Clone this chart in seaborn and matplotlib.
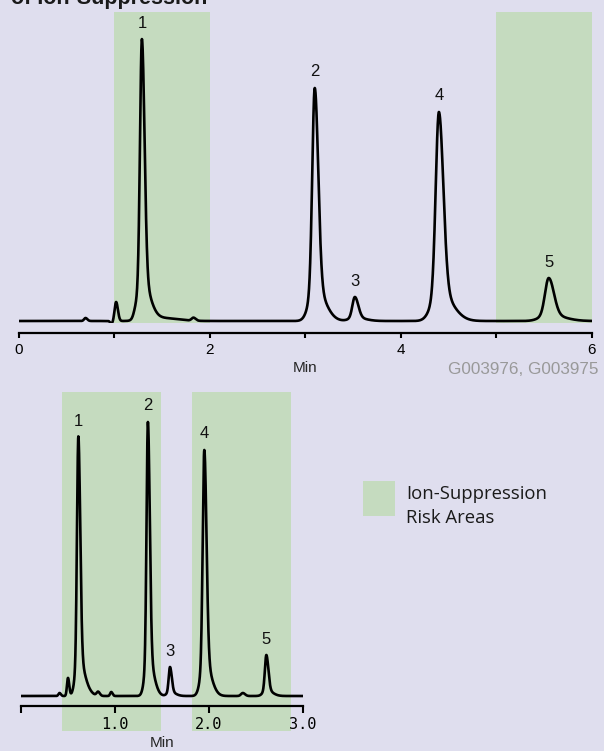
import numpy as np
import pandas as pd
import matplotlib
matplotlib.use("Agg")
import matplotlib.pyplot as plt
from matplotlib.patches import Rectangle
import seaborn as sns

# ---------------- data ----------------
# Upper chromatogram (0-6 min): labelled analyte peaks
top_labels = ["1", "2", "3", "4", "5"]
top_rt = [1.29, 3.10, 3.52, 4.40, 5.55]          # retention time, min
top_height = [281, 233, 24, 209, 43]             # detector response
top_fwhm = [0.055, 0.072, 0.072, 0.092, 0.108]   # peak width at half height, min
# minor baseline features of the upper trace
top_minor_rt = [0.70, 0.97, 1.02, 1.22, 1.50, 1.83]
top_minor_height = [3, -3, 19, 3, 3, 3]
top_minor_fwhm = [0.04, 0.03, 0.04, 0.05, 0.35, 0.05]
top_risk_start = [1.0, 5.0]
top_risk_end = [2.0, 6.0]

# Lower chromatogram (0-3 min)
bot_labels = ["1", "2", "3", "4", "5"]
bot_rt = [0.61, 1.35, 1.585, 1.95, 2.61]
bot_height = [259, 274, 29, 246, 41]
bot_fwhm = [0.040, 0.040, 0.038, 0.047, 0.043]
bot_minor_rt = [0.41, 0.50, 0.70, 0.82, 0.96, 2.36]
bot_minor_height = [3, 18, 4, 4, 4, 3]
bot_minor_fwhm = [0.03, 0.028, 0.12, 0.04, 0.03, 0.05]
bot_risk_start = [0.44, 1.82]
bot_risk_end = [1.49, 2.87]

legend_text = "Ion-Suppression\nRisk Areas"
codes_text = "G003976, G003975"

# ---------------- styling ----------------
BG = "#dfdeee"
GREEN = "#c5dbbf"
W, H = 604, 751

sns.set_theme(style="white")
plt.rcParams["font.family"] = ["Liberation Sans", "DejaVu Sans"]


def gauss_asym(t, rt, h, fwhm, tail):
    s = fwhm / 2.3548
    sl = 2 * s / (1 + tail)
    sr = 2 * s * tail / (1 + tail)
    sig = np.where(t < rt, sl, sr)
    return h * np.exp(-0.5 * ((t - rt) / sig) ** 2)


def peak_shape(t, rt, h, fwhm):
    # sharp core plus a broader, tailing foot
    return (gauss_asym(t, rt, 0.85 * h, fwhm, 1.4)
            + gauss_asym(t, rt, 0.15 * h, 2.6 * fwhm, 1.8))


def build_trace(t, rts, hs, ws, mrts, mhs, mws):
    y = np.zeros_like(t)
    for rt, h, w in zip(rts, hs, ws):
        y += peak_shape(t, rt, h, w)
    for rt, h, w in zip(mrts, mhs, mws):
        y += gauss_asym(t, rt, h, w, 1.2)
    return y


fig = plt.figure(figsize=(W / 100, H / 100), dpi=100, facecolor=BG)


def px_axes(x0, y0, x1, y1):
    return fig.add_axes([x0 / W, 1 - y1 / H, (x1 - x0) / W, (y1 - y0) / H])


def draw_chrom(ax, t, y, starts, ends, labels, rts, hs):
    ax.set_facecolor("none")
    for a, b in zip(starts, ends):
        ax.axvspan(a, b, color=GREEN, lw=0, zorder=0)
    df = pd.DataFrame({"Min": t, "signal": y})
    sns.lineplot(data=df, x="Min", y="signal", ax=ax, color="black",
                 lw=1.9, estimator=None, sort=False, zorder=3)
    for lab, rt, h in zip(labels, rts, hs):
        ax.annotate(lab, xy=(rt, h), xytext=(0, 16), textcoords="offset pixels",
                    ha="center", va="center", fontsize=12, color="#111111")
    for s in ["left", "right", "top"]:
        ax.spines[s].set_visible(False)
    ax.spines["bottom"].set_color("black")
    ax.spines["bottom"].set_linewidth(1.6)
    ax.set_yticks([])
    ax.set_ylabel("")


# upper panel
t_top = np.linspace(0, 6, 3001)
y_top = build_trace(t_top, top_rt, top_height, top_fwhm,
                    top_minor_rt, top_minor_height, top_minor_fwhm)
ax1 = px_axes(18.7, 12, 591.7, 323)
draw_chrom(ax1, t_top, y_top, top_risk_start, top_risk_end,
           top_labels, top_rt, top_height)
ax1.set_xlim(0, 6)
ax1.set_ylim(-2, 309)
ax1.spines["bottom"].set_position(("outward", 7.2))
ax1.set_xticks([0, 1, 2, 3, 4, 5, 6])
ax1.set_xticklabels(["0", "", "2", "", "4", "", "6"])
ax1.tick_params(axis="x", direction="out", length=3.5, width=1.5,
                pad=3.5, labelsize=11, colors="black", bottom=True)
ax1.set_xlabel("Min", fontsize=11, labelpad=3)

# lower panel
t_bot = np.linspace(0, 3, 1501)
y_bot = build_trace(t_bot, bot_rt, bot_height, bot_fwhm,
                    bot_minor_rt, bot_minor_height, bot_minor_fwhm)
ax2 = px_axes(21, 392, 303, 731)
draw_chrom(ax2, t_bot, y_bot, bot_risk_start, bot_risk_end,
           bot_labels, bot_rt, bot_height)
ax2.set_xlim(0, 3)
ax2.set_ylim(-35, 304)
ax2.spines["bottom"].set_position(("data", -10))
ax2.set_xticks([0, 1, 2, 3])
ax2.set_xticklabels(["", "1.0", "2.0", "3.0"])
ax2.tick_params(axis="x", direction="out", length=5, width=1.5,
                pad=3, labelsize=11, colors="black", bottom=True)
for lab in ax2.get_xticklabels():
    lab.set_fontfamily("DejaVu Sans Mono")
ax2.set_xlabel("Min", fontsize=11, labelpad=3)

# legend swatch and text
fig.patches.append(Rectangle((363 / W, 1 - 516 / H), 32 / W, 35 / H,
                             transform=fig.transFigure, color=GREEN, lw=0))
fig.text(406 / W, 1 - 485 / H, legend_text, ha="left", va="top",
         fontsize=13.3, family=["Open Sans", "DejaVu Sans"], color="#1a1a1a",
         linespacing=1.4)

# sample codes
fig.text(448 / W, 1 - 370 / H, codes_text, ha="left", va="center",
         fontsize=12.3, color="#999999")

# heading, running off the top edge
fig.text(11 / W, 1 - 4 / H, "of Ion-Suppression", ha="left", va="baseline",
         fontsize=15.5, weight="bold", color="#1a1a1a")

fig.savefig("out.png", dpi=100, facecolor=BG)
